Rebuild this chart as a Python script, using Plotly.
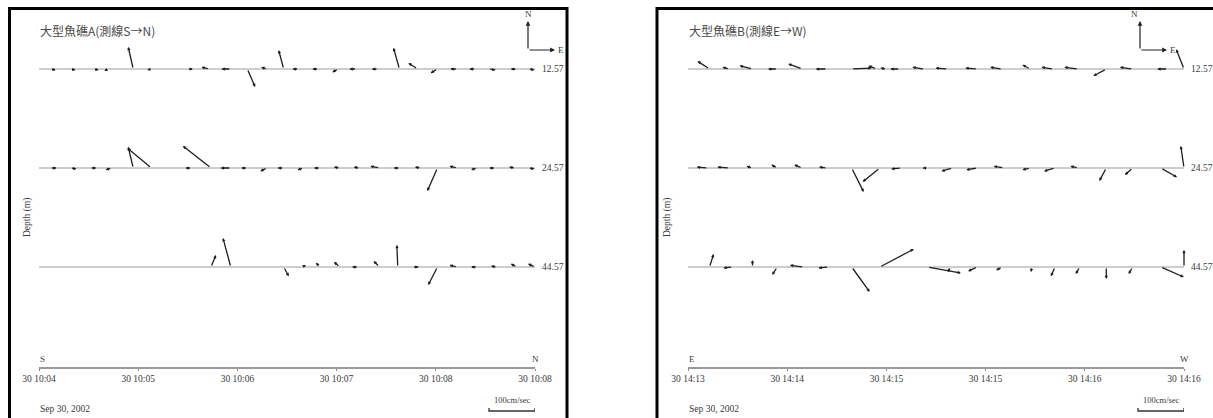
import plotly.graph_objects as go

FW, FH = 1213, 418

# ---------------- data ----------------
LEVELS = ["12.57", "24.57", "44.57"]
TICKVALS = [0, 60, 120, 180, 240, 300]          # seconds from start of record
A_TICKTEXT = ["30 10:04", "30 10:05", "30 10:06", "30 10:07", "30 10:08", "30 10:08"]
B_TICKTEXT = ["30 14:13", "30 14:14", "30 14:15", "30 14:15", "30 14:16", "30 14:16"]
A_TITLE = "大型魚礁A(測線S→N)"
B_TITLE = "大型魚礁B(測線E→W)"
A_ENDS = ["S", "N"]
B_ENDS = ["E", "W"]
DATE_TEXT = "Sep 30, 2002"
SCALE_CMS = 100

# Site A, depth 12.57 m : time (s), u east (cm/s), v north (cm/s)
A1_T = [7, 19, 33, 42, 57, 68, 90, 103, 116, 126, 138, 148, 157, 169, 181, 192, 205, 218, 229, 241, 253, 264, 272, 289, 296]
A1_U = [11, 11, 11, -9, -11, -9, 11, -17, -20, 17, -13, -11, -13, -13, -13, -15, -13, -13, -20, -15, -15, -13, 15, -13, 13]
A1_V = [-2, -2, -2, -4, 48, -2, 0, 4, 0, -39, 4, 41, 0, 0, -7, 0, 0, 46, 13, -9, 0, 0, -2, 0, -2]
# Site A, depth 24.57 m
A2_T = [7, 19, 31, 44, 57, 68, 88, 104, 116, 126, 138, 148, 160, 170, 182, 194, 206, 214, 231, 241, 253, 265, 276, 288, 296]
A2_U = [13, 13, 13, -13, -11, -52, 13, -61, -22, -13, -15, -13, -13, -13, -13, -13, -20, 13, -13, -22, -17, -13, -13, -13, 13]
A2_V = [0, -2, 0, -4, 46, 43, 0, 48, 0, 0, -7, 0, -4, 0, 2, 2, 4, 0, 2, -50, 4, -4, 0, 2, -2]
# Site A, depth 44.57 m
A3_T = [104, 116, 148, 159, 170, 182, 193, 206, 217, 226, 241, 253, 265, 277, 289, 300]
A3_U = [11, -17, 11, 9, -9, -13, -13, -13, -2, 13, -20, -17, -13, -13, -13, -15]
A3_V = [26, 63, -20, 4, 9, 11, 0, 13, 48, 0, -39, 4, 0, 2, 7, 7]

# Site B, depth 12.57 m
B1_T = [13, 25, 39, 54, 69, 84, 99, 114, 120, 128, 143, 157, 175, 190, 207, 221, 236, 253, 269, 290, 300]
B1_U = [-26, -15, -28, -20, -30, -24, 43, -17, -13, -20, -26, -26, -26, -26, -17, -26, -30, -28, -28, -22, -17]
B1_V = [17, 4, 7, 0, 11, 0, 2, 7, 2, 0, 4, 2, 2, 4, 9, 4, 4, -15, 4, 0, 43]
# Site B, depth 24.57 m
B2_T = [12, 25, 39, 54, 69, 84, 99, 116, 129, 145, 160, 175, 191, 207, 222, 236, 253, 269, 286, 300]
B2_U = [-24, -26, -13, -13, -17, -17, 26, -37, -22, -11, -24, -24, -22, -17, -24, -17, -15, -17, 35, -7]
B2_V = [2, 2, 4, 7, 7, 2, -52, -30, -2, 0, -7, -4, 4, -4, -7, 4, -28, -15, -20, 48]
# Site B, depth 44.57 m
B3_T = [13, 27, 39, 54, 70, 85, 99, 116, 145, 159, 175, 190, 208, 222, 237, 253, 269, 286, 300]
B3_U = [9, -20, 0, -11, -30, -22, 39, 74, 72, -7, -20, -13, -2, -9, -9, 0, -9, 50, 0]
B3_V = [28, -2, 15, -17, 4, -2, -54, 39, -13, -11, -9, -7, -11, -20, -15, -26, -15, -22, 37]

# ---------------- geometry / style ----------------
def px(x):
    """screen x (px) -> paper fraction"""
    return x / FW


def py(y):
    """screen y (px) -> paper fraction"""
    return 1 - y / FH


T_MAX = 300
PX_PER_CMS = 0.46                # arrow length scale (px per cm/s)
A_X0, A_X1 = 39, 535
B_X0, B_X1 = 688, 1184
Y_TOP, Y_BOT = 20, 367
LEVEL_PX = [69, 168, 267]
UNIT_PX = LEVEL_PX[1] - LEVEL_PX[0]
Y_RANGE = [(Y_BOT - LEVEL_PX[0]) / UNIT_PX, (Y_TOP - LEVEL_PX[0]) / UNIT_PX]

SERIF = "Liberation Serif"
CJK = "Noto Sans CJK TC"
TXT = "#3a3a3a"

fig = go.Figure()

panels = [
    dict(xr="x", yr="y", x0=A_X0, x1=A_X1, ticktext=A_TICKTEXT, title=A_TITLE, ends=A_ENDS,
         data=[(A1_T, A1_U, A1_V), (A2_T, A2_U, A2_V), (A3_T, A3_U, A3_V)],
         frame=(9.5, 567), compass=528),
    dict(xr="x2", yr="y2", x0=B_X0, x1=B_X1, ticktext=B_TICKTEXT, title=B_TITLE, ends=B_ENDS,
         data=[(B1_T, B1_U, B1_V), (B2_T, B2_U, B2_V), (B3_T, B3_U, B3_V)],
         frame=(657, 1217), compass=1140),
]

annotations = []
shapes = []

for p in panels:
    # baselines for each level
    bx, by = [], []
    for i in range(len(LEVELS)):
        bx += [0, T_MAX, None]
        by += [i, i, None]
    fig.add_trace(go.Scatter(x=bx, y=by, mode="lines", xaxis=p["xr"], yaxis=p["yr"],
                             line=dict(color="#cdcdcd", width=2), hoverinfo="skip",
                             showlegend=False))

    kx = PX_PER_CMS / ((p["x1"] - p["x0"]) / T_MAX)
    ky = PX_PER_CMS / UNIT_PX
    for i, (T, U, V) in enumerate(p["data"]):
        for t, u, v in zip(T, U, V):
            annotations.append(dict(
                x=t + u * kx, y=i - v * ky, ax=t, ay=i,
                xref=p["xr"], yref=p["yr"], axref=p["xr"], ayref=p["yr"],
                text="", showarrow=True, arrowhead=2, arrowsize=0.5, arrowwidth=1.3,
                arrowcolor="#1e1e1e", standoff=0, startstandoff=0))
        # level label
        annotations.append(dict(x=T_MAX, y=i, xref=p["xr"], yref=p["yr"], text=LEVELS[i],
                                showarrow=False, xanchor="left", xshift=5,
                                font=dict(family=SERIF, size=9.5, color=TXT)))

    # title
    annotations.append(dict(x=px(p["x0"] - 1), y=py(30), xref="paper", yref="paper",
                            text=p["title"], showarrow=False, xanchor="left", yanchor="middle",
                            font=dict(family=CJK, size=12, color="#4a4a4a")))
    # depth label
    annotations.append(dict(x=px(p["frame"][0] + 11), y=py(218), xref="paper", yref="paper",
                            text="Depth (m)", showarrow=False, textangle=-90,
                            font=dict(family=SERIF, size=9.5, color=TXT)))
    # end letters on the axis
    annotations.append(dict(x=0, y=py(359), xref=p["xr"], yref="paper", text=p["ends"][0],
                            showarrow=False, xanchor="left", xshift=-1, yanchor="middle",
                            font=dict(family=SERIF, size=9, color=TXT)))
    annotations.append(dict(x=T_MAX, y=py(359), xref=p["xr"], yref="paper", text=p["ends"][1],
                            showarrow=False, yanchor="middle",
                            font=dict(family=SERIF, size=9, color=TXT)))
    # date
    annotations.append(dict(x=px(p["x0"] - 1), y=py(409), xref="paper", yref="paper",
                            text=DATE_TEXT, showarrow=False, xanchor="left", yanchor="middle",
                            font=dict(family=SERIF, size=9.5, color=TXT)))
    # scale bar
    bar_t = SCALE_CMS * kx
    shapes.append(dict(type="path", xref=p["xr"], yref="paper",
                       path=f"M {T_MAX - bar_t},{py(408)} L {T_MAX - bar_t},{py(411)} "
                            f"L {T_MAX},{py(411)} L {T_MAX},{py(408)}",
                       line=dict(color="#333", width=1.3)))
    annotations.append(dict(x=T_MAX - bar_t / 2, y=py(400), xref=p["xr"], yref="paper",
                            text=f"{SCALE_CMS}cm/sec", showarrow=False, yanchor="middle",
                            font=dict(family=SERIF, size=8.5, color=TXT)))
    # compass
    cx = p["compass"]
    annotations.append(dict(x=px(cx), y=py(21), xref="paper", yref="paper", ax=0, ay=29,
                            text="", showarrow=True, arrowhead=2, arrowsize=0.8,
                            arrowwidth=1.2, arrowcolor="#222", standoff=0))
    annotations.append(dict(x=px(cx + 27), y=py(50), xref="paper", yref="paper", ax=-27, ay=0,
                            text="", showarrow=True, arrowhead=2, arrowsize=0.8,
                            arrowwidth=1.2, arrowcolor="#222", standoff=0))
    annotations.append(dict(x=px(cx), y=py(14), xref="paper", yref="paper", text="N",
                            showarrow=False, yanchor="middle",
                            font=dict(family=SERIF, size=9, color=TXT)))
    annotations.append(dict(x=px(cx + 28), y=py(50), xref="paper", yref="paper", text="E",
                            showarrow=False, xanchor="left", yanchor="middle",
                            font=dict(family=SERIF, size=9, color=TXT)))
    # frame
    shapes.append(dict(type="rect", xref="paper", yref="paper",
                       x0=px(p["frame"][0]), x1=px(p["frame"][1]), y0=-0.05, y1=py(8.5),
                       line=dict(color="black", width=3)))

xaxis_common = dict(range=[0, T_MAX], showline=True, linecolor="#9a9a9a", linewidth=1.5,
                    ticks="outside", ticklen=2, tickcolor="#888", tickvals=TICKVALS,
                    showgrid=False, zeroline=False, fixedrange=True, automargin=False,
                    tickfont=dict(family=SERIF, size=9.5, color=TXT))
yaxis_common = dict(range=Y_RANGE, domain=[py(Y_BOT), py(Y_TOP)], visible=False,
                    showgrid=False, zeroline=False, fixedrange=True, automargin=False)

fig.update_layout(
    width=FW, height=FH,
    margin=dict(l=0, r=0, t=0, b=0, pad=0, autoexpand=False),
    paper_bgcolor="white", plot_bgcolor="white",
    showlegend=False,
    xaxis=dict(domain=[px(A_X0), px(A_X1)], anchor="y", ticktext=A_TICKTEXT, **xaxis_common),
    yaxis=dict(anchor="x", **yaxis_common),
    xaxis2=dict(domain=[px(B_X0), px(B_X1)], anchor="y2", ticktext=B_TICKTEXT, **xaxis_common),
    yaxis2=dict(anchor="x2", **yaxis_common),
    annotations=annotations,
    shapes=shapes,
)

# let the 1213x418 figure fill the page exactly (no default body margin / scrollbars)
fig.write_html("out.html",
               config={"displayModeBar": False, "staticPlot": True},
               post_script="document.body.style.margin='0';"
                           "document.documentElement.style.overflow='hidden';")
